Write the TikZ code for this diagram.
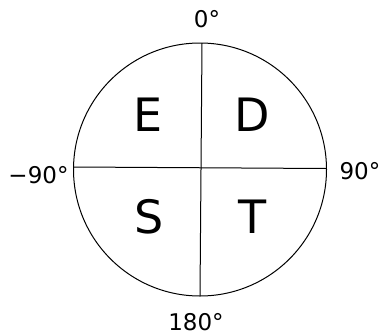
\documentclass[tikz,border=0pt]{standalone}
\usepackage{fontspec}
\setmainfont{DejaVu Sans}
\usetikzlibrary{positioning}

\tikzset{
  angle/.style={font=\fontsize{23}{26}\selectfont, inner sep=0pt},
  quad/.style={font=\fontsize{46}{50}\selectfont, inner sep=0pt}
}

\begin{document}
\begin{tikzpicture}[x=1pt, y=-1pt, line width=1pt]
\useasboundingbox (0,0) rectangle (380,335);
\node[draw, circle, minimum size=253pt, inner sep=0pt] (dial) at (200,169.5) {};
\coordinate (top) at (202,43);
\coordinate (bot) at (200,296);
\coordinate (lft) at (74,167);
\coordinate (rgt) at (326,168.5);
\draw (top) -- (bot);
\draw (lft) -- (rgt);
% quadrant letters
\foreach \name/\pos/\txt in {qe/{148,115}/E, qd/{252,115}/D, qs/{149,217}/S, qt/{253,217}/T} {
  \node[quad] (\name) at (\pos) {\txt};
}
% angle labels
\node[angle] (a0) at (207,19.5) {0°};
\node[angle] (a90) at (360,171.5) {90°};
\node[angle] (am90) at (38.5,175) {−90°};
\node[angle] (a180) at (196,322.5) {180°};
\end{tikzpicture}
\end{document}
